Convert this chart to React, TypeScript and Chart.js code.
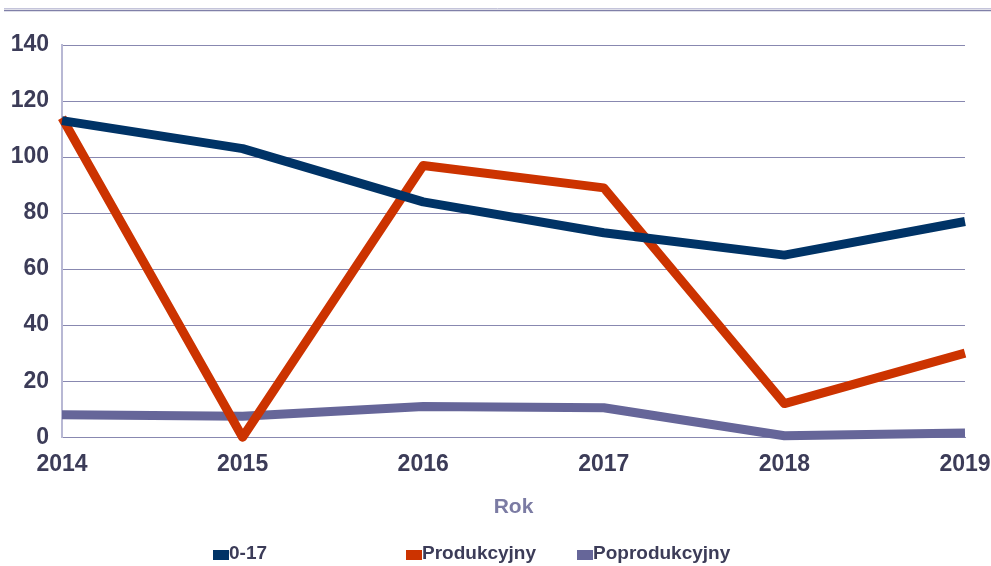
import React, { useEffect, useRef } from "react";
import { Chart, registerables } from "chart.js";

Chart.register(...registerables);

const years = ["2014", "2015", "2016", "2017", "2018", "2019"];
const seriesNames = ["0-17", "Produkcyjny", "Poprodukcyjny"];
const values017 = [113, 103, 84, 73, 65, 77];
const valuesProd = [114, 0, 97, 89, 12, 30];
const valuesPoprod = [8, 7.5, 11, 10.5, 0.5, 1.5];
const colors = ["#003366", "#cc3300", "#666699"];
const yTicks = [0, 20, 40, 60, 80, 100, 120, 140];
const axisTitle = "Rok";

const FONT = "'Liberation Sans', Arial, sans-serif";
const TEXT = "#3c3c58";

const decorPlugin = {
  id: "decor",
  afterDraw(chart: any) {
    const ctx = chart.ctx;
    ctx.save();
    // top double rule
    ctx.strokeStyle = "#c4c4da";
    ctx.lineWidth = 1;
    ctx.beginPath();
    ctx.moveTo(4, 8.5);
    ctx.lineTo(991, 8.5);
    ctx.stroke();
    ctx.strokeStyle = "#8080a8";
    ctx.lineWidth = 1.5;
    ctx.beginPath();
    ctx.moveTo(4, 10.5);
    ctx.lineTo(991, 10.5);
    ctx.stroke();
    // legend
    const xs = [213, 406, 577];
    ctx.font = `bold 19px ${FONT}`;
    ctx.textBaseline = "middle";
    ctx.textAlign = "left";
    chart.data.datasets.forEach((ds: any, i: number) => {
      ctx.fillStyle = ds.borderColor;
      ctx.fillRect(xs[i], 550, 16, 10);
      ctx.fillStyle = TEXT;
      ctx.fillText(ds.label, xs[i] + 16, 554);
    });
    ctx.restore();
  },
};

export default function App() {
  const ref = useRef<HTMLCanvasElement>(null);
  useEffect(() => {
    const chart = new Chart(ref.current!, {
      type: "line",
      data: {
        labels: years,
        datasets: [values017, valuesProd, valuesPoprod].map((d, i) => ({
          label: seriesNames[i],
          data: d,
          borderColor: colors[i],
          backgroundColor: colors[i],
          borderWidth: 9,
          pointRadius: 0,
          tension: 0,
          borderJoinStyle: "round" as const,
          borderCapStyle: "butt" as const,
          clip: false as any,
        })),
      },
      options: {
        animation: false,
        responsive: false,
        maintainAspectRatio: false,
        layout: { padding: { top: 45, left: 0, right: 0, bottom: 46 } },
        plugins: {
          legend: { display: false },
          tooltip: { enabled: false },
          title: { display: false },
        },
        scales: {
          x: {
            afterFit: (scale: any) => {
              scale.paddingRight = 26;
            },
            grid: { display: false, drawTicks: false },
            border: { display: true, color: "#8888b0", width: 1 },
            ticks: {
              color: TEXT,
              font: { family: FONT, size: 23, weight: "bold" },
              padding: 14,
              maxRotation: 0,
              autoSkip: false,
            },
            title: {
              display: true,
              text: axisTitle,
              color: "#7b7ba3",
              font: { family: FONT, size: 21, weight: "bold" },
              padding: { top: 2, bottom: 0 },
            },
          },
          y: {
            min: 0,
            max: 140,
            afterBuildTicks: (axis: any) => {
              axis.ticks = yTicks.map((v) => ({ value: v }));
            },
            afterFit: (scale: any) => {
              scale.width = 62;
            },
            grid: { color: "#8888b0", lineWidth: 1, drawTicks: false },
            border: { display: true, color: "#b8b8d4", width: 2 },
            ticks: {
              color: TEXT,
              font: { family: FONT, size: 23, weight: "bold" },
              padding: 13,
            },
          },
        },
      },
      plugins: [decorPlugin],
    });
    return () => chart.destroy();
  }, []);
  return (
    <div style={{ position: "fixed", left: 0, top: 0, width: 991, height: 566, background: "#fff" }}>
      <canvas ref={ref} width={991} height={566} style={{ display: "block" }} />
    </div>
  );
}
